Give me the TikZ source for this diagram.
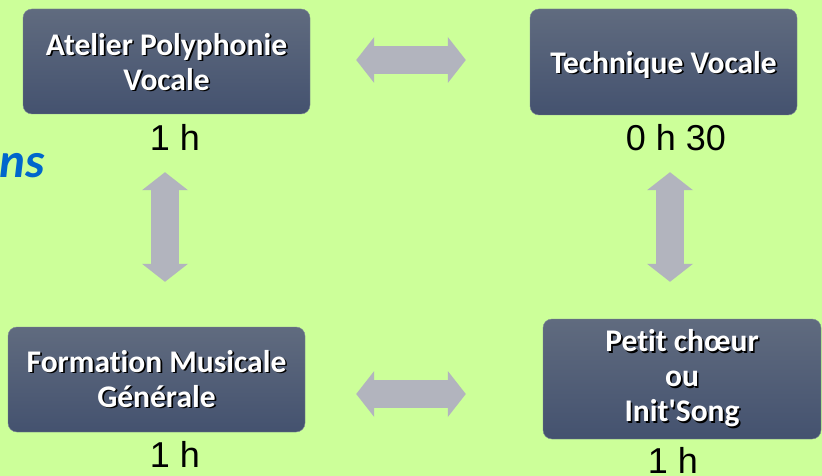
\documentclass[tikz,border=0pt]{standalone}
\usepackage{fontspec}
\setmainfont[Ligatures=CommonOff]{Carlito}
\newfontfamily\arialfont{Liberation Sans}
\usetikzlibrary{arrows.meta}

\definecolor{fond}{HTML}{CCFF99}
\definecolor{boxtop}{HTML}{606B7F}
\definecolor{boxbot}{HTML}{44526F}
\definecolor{boxline}{HTML}{7A8496}
\definecolor{fleche}{HTML}{B2B4BE}
\definecolor{titre}{HTML}{0066CC}

% white text with a dark drop shadow
\newcommand\shd[1]{\makebox[0pt][l]{\kern1.7pt\raisebox{-1.7pt}{\color{black}#1}}#1}

\begin{document}
\begin{tikzpicture}[x=1pt,y=-1pt]
	\tikzstyle{Box} = [rectangle, rounded corners=9pt, top color=boxtop, bottom color=boxbot, draw=boxline, text=white, align=center, inner sep=0pt, font=\bfseries\fontsize{31.5}{35}\selectfont]
	\tikzstyle{Duree} = [anchor=base, inner sep=0pt, font=\arialfont\fontsize{36}{36}\selectfont]
	\tikzstyle{arrow} = [line width=28pt, draw=fleche, {Triangle[width=46pt,length=18pt,line width=0pt]}-{Triangle[width=46pt,length=18pt,line width=0pt]}]

	\useasboundingbox (0,0) rectangle (822,476);
	\fill[fond] (0,0) rectangle (822,476);
	\clip (0,0) rectangle (822,476);

	\node (ans) [anchor=base east, inner sep=0pt, text=titre, font=\bfseries\itshape\fontsize{49}{49}\selectfont] at (45,178) {ns};

	\node (atelier) [Box, minimum width=287pt, minimum height=105pt, text depth=0pt] at (166.5,61.5) {\shd{Atelier Polyphonie}\\\shd{Vocale}};
	\node (technique) [Box, minimum width=267pt, minimum height=106pt, text depth=0pt] at (663.5,62) {\shd{Technique Vocale}};
	\node (formation) [Box, minimum width=297pt, minimum height=105pt] at (156.5,379.5) {\shd{Formation Musicale}\\\shd{Générale}};
	\node (petit) [Box, minimum width=278pt, minimum height=120pt] at (682,379) {\shd{Petit chœur}\\\shd{ou}\\\shd{Init\textquotesingle Song}};

	\node (d1) [Duree] at (175,150) {1 h};
	\node (d2) [Duree] at (676,150) {0 h 30};
	\node (d3) [Duree] at (175,467) {1 h};
	\node (d4) [Duree] at (673,473) {1 h};

	\draw [arrow, shorten <=46pt, shorten >=64pt] ([yshift=1.5pt]atelier.east) -- ([yshift=2pt]technique.west);
	\draw [arrow, shorten <=51pt, shorten >=77pt] ([yshift=-14.5pt]formation.east) -- ([yshift=-15pt]petit.west);
	\draw [arrow, shorten <=58pt, shorten >=45pt] ([xshift=-1.5pt]atelier.south) -- ([xshift=8.5pt]formation.north);
	\draw [arrow, shorten <=57pt, shorten >=37pt] ([xshift=6.5pt]technique.south) -- ([xshift=-12pt]petit.north);
\end{tikzpicture}
\end{document}
